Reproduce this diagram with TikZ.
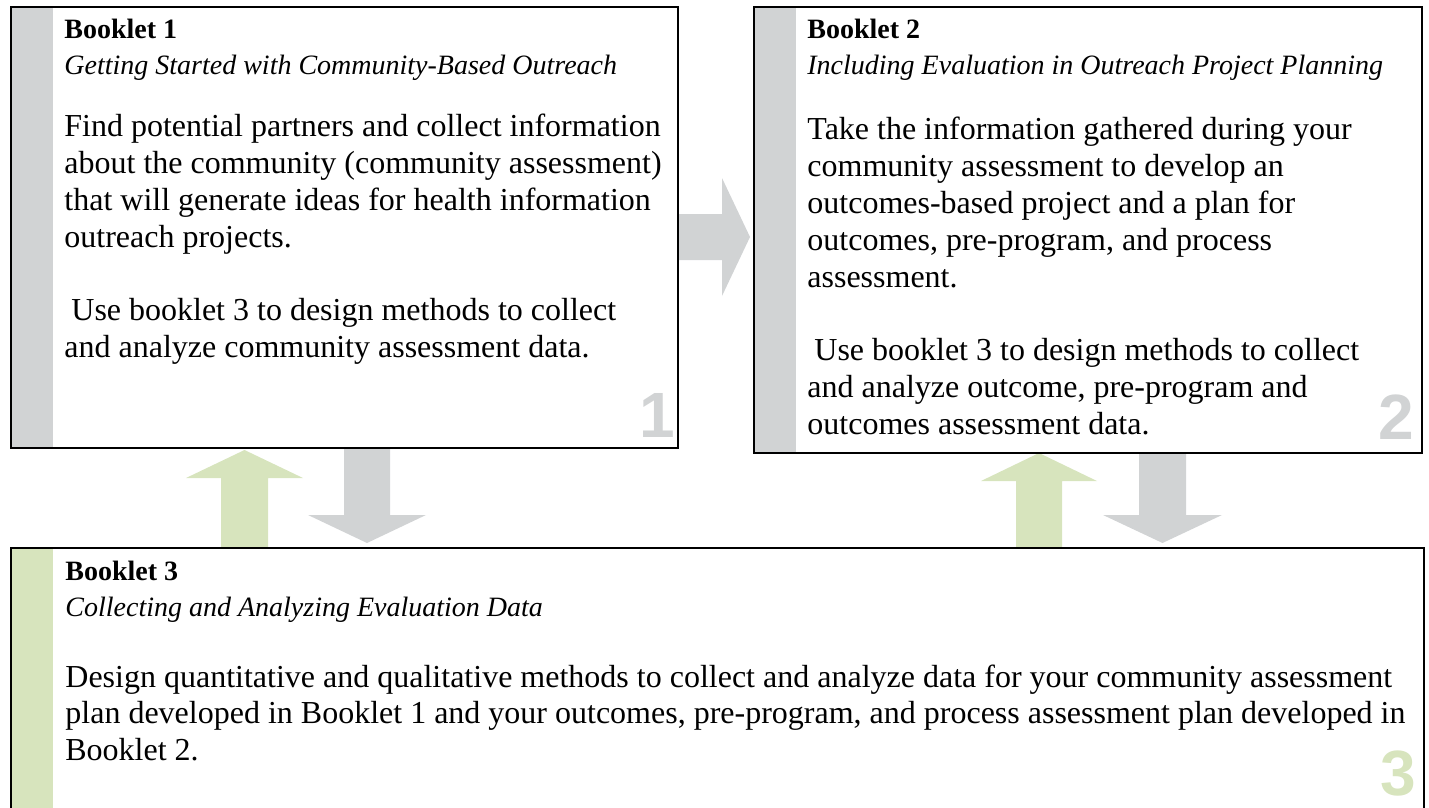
\documentclass[tikz,border=0pt]{standalone}
\usepackage{fontspec}
\setmainfont{Liberation Serif}
\newfontfamily\numfont{Liberation Sans}
\usepackage{xcolor}
\usetikzlibrary{positioning}

\definecolor{stripgray}{RGB}{209,211,212}
\definecolor{stripgreen}{RGB}{215,228,189}

\newcommand{\bodytext}[2][330pt]{\parbox[t]{#1}{\fontsize{16pt}{18.4pt}\selectfont\raggedright #2}}

\begin{document}
\begin{tikzpicture}[
                x=0.5pt, y=-0.5pt,
                every node/.append style = {inner sep=0pt},
                booklet/.style = {draw, line width=1.2pt, anchor=north west,
                    path picture={\fill[#1] (path picture bounding box.north west)
                        rectangle ([xshift=21pt]path picture bounding box.south west);}},
                title/.style = {anchor=base west, font=\fontsize{14pt}{16pt}\selectfont\bfseries},
                subtitle/.style = {anchor=base west, font=\fontsize{14pt}{16pt}\selectfont\itshape},
                body/.style = {anchor=base west},
                bignum/.style = {anchor=base east, font=\numfont\fontsize{32pt}{36pt}\selectfont\bfseries}]
            \clip (0,0) rectangle (1429,808);
            % block arrows
            \fill[stripgray] (679,214) -- (722,214) -- (722,178) -- (750,237) -- (722,296)
                -- (722,260) -- (679,260) -- cycle;
            \fill[stripgreen] (221,547) -- (221,478) -- (186,478) -- (244.5,450) -- (303,478)
                -- (268,478) -- (268,547) -- cycle;
            \fill[stripgray] (344,447) -- (344,515) -- (308,515) -- (367,543) -- (426,515)
                -- (390,515) -- (390,447) -- cycle;
            \fill[stripgreen] (1016,547) -- (1016,481) -- (981,481) -- (1039,453) -- (1097,481)
                -- (1062,481) -- (1062,547) -- cycle;
            \fill[stripgray] (1139,452) -- (1139,515) -- (1103,515) -- (1162.5,543) -- (1222,515)
                -- (1186,515) -- (1186,452) -- cycle;
            % booklets
            \node[booklet=stripgray, minimum width=333.5pt, minimum height=220.5pt] (b1) at (10,6) {};
            \node[booklet=stripgray, minimum width=334pt, minimum height=223pt] (b2) at (753,6) {};
            \node[booklet=stripgreen, minimum width=706.5pt, minimum height=150pt] (b3) at (10,547) {};
            \node[title] (b1title) at (64,39) {Booklet 1};
            \node[subtitle] (b1sub) at (64,75) {Getting Started with Community-Based Outreach};
            \node[body] (b1body) at (64,137) {\bodytext{Find potential partners and collect information\\
                about the community (community assessment)\\
                that will generate ideas for health information\\
                outreach projects.\\[18.4pt]
                \hspace*{3.5pt}Use booklet 3 to design methods to collect\\
                and analyze community assessment data.}};
            \node[bignum, text=stripgray] (b1num) at (675,437) {1};
            \node[title] (b2title) at (807,39) {Booklet 2};
            \node[subtitle] (b2sub) at (807,75) {Including Evaluation in Outreach Project Planning};
            \node[body] (b2body) at (807,140) {\bodytext{Take the information gathered during your\\
                community assessment to develop an\\
                outcomes-based project and a plan for\\
                outcomes, pre-program, and process\\
                assessment.\\[18.4pt]
                \hspace*{3.5pt}Use booklet 3 to design methods to collect\\
                and analyze outcome, pre-program and\\
                outcomes assessment data.}};
            \node[bignum, text=stripgray] (b2num) at (1414,439) {2};
            \node[title] (b3title) at (65,580) {Booklet 3};
            \node[subtitle] (b3sub) at (65,616) {Collecting and Analyzing Evaluation Data};
            \node[body] (b3body) at (65,687) {\bodytext[700pt]{Design quantitative and qualitative methods to collect and analyze data for your community assessment\\
                plan developed in Booklet 1 and your outcomes, pre-program, and process assessment plan developed in\\
                Booklet 2.}};
            \node[bignum, text=stripgreen] (b3num) at (1416,795) {3};
            \end{tikzpicture}
\end{document}
